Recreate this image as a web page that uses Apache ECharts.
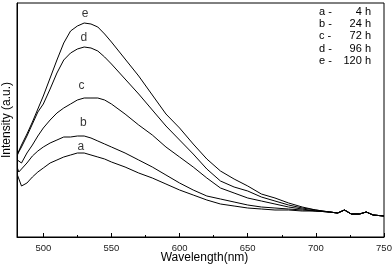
<!DOCTYPE html>
<html><head><meta charset="utf-8">
<script src="https://cdn.jsdelivr.net/npm/echarts@6/dist/echarts.min.js"></script>
<style>html,body{margin:0;padding:0;background:#fff}#c{width:392px;height:269px}</style>
</head><body><div id="c"></div>
<script>
const wavelengths = [481,482,484,488,492,496,500,505,510,515,520,525,530,535,540,545,550,560,570,580,590,600,610,620,630,640,650,660,670,680,690,700,710,716,721,726,732,737,742,750];
const seriesA = [62,61,51,54,60,65,69,74,77,80,82,84,84,82,80,78,75,70,64,59,53,47,42,37,33,31,29,28,27,27,26,26,25,24,27,23,23,25,22,21];
const seriesB = [69,65,68,74,81,86,90,94,97,100,100,101,101,99,96,93,90,84,77,70,62,54,47,41,38,35,32,30,29,28,27,26,25,24,27,23,23,25,22,21];
const seriesC = [77,79,74,84,92,101,109,117,124,129,133,137,139,139,139,137,133,123,112,102,90,80,70,59,49,44,39,36,33,30,28,26,25,24,27,23,23,25,22,21];
const seriesD = [82,85,90,101,113,125,133,148,164,177,184,188,190,189,186,180,173,158,143,127,111,97,83,68,56,50,46,40,36,32,29,27,25,24,27,23,23,25,22,21];
const seriesE = [83,86,92,103,115,128,141,159,177,194,206,211,214,213,210,203,195,178,161,142,123,109,93,78,66,58,51,43,39,34,30,27,25,24,27,23,23,25,22,21];
const curveNames = ['a','b','c','d','e'];
const labelWavelengths = [527.6,529.3,528,529.8,530.7];
const labelIntensities = [90,114,151,199,223];
const legendLetters = ['a -','b -','c -','d -','e -'];
const legendTimes = ['4 h','24 h','72 h','96 h','120 h'];
const xTickValues = [500,550,600,650,700,750];
const xMinorTickValues = [525,575,625,675,725];

const FONT = '"Liberation Sans", Arial, sans-serif';
const allSeries = [seriesA, seriesB, seriesC, seriesD, seriesE];
const chart = echarts.init(document.getElementById('c'), null, {renderer:'canvas'});

const lineSeries = allSeries.map((vals, i) => ({
  name: curveNames[i], type: 'line', xAxisIndex: 0, showSymbol: false, silent: true,
  lineStyle: {color: '#000', width: 1}, animation: false,
  data: wavelengths.map((w, j) => [w, vals[j]])
}));
const labelSeries = {
  type: 'scatter', symbolSize: 0, silent: true, animation: false,
  data: curveNames.map((n, i) => [labelWavelengths[i], labelIntensities[i], n]),
  label: {show: true, position: 'inside', formatter: p => p.data[2], fontSize: 12, color: '#000', fontFamily: FONT}
};

const graphics = [];
legendLetters.forEach((t, i) => {
  graphics.push({type:'text', left: 319, top: 6 + i*12.4, style:{text: t, font: '11px ' + FONT, fill:'#000'}});
  graphics.push({type:'text', right: 21, top: 6 + i*12.4, style:{text: legendTimes[i], font: '11px ' + FONT, fill:'#000'}});
});

chart.setOption({
  animation: false,
  grid: {left: 17, right: 8, top: 3, bottom: 32, show: true, borderColor: '#000', borderWidth: 1, backgroundColor: 'transparent', containLabel: false, outerBoundsMode: 'none'},
  xAxis: [{
    type: 'value', min: 480.7, max: 750, position: 'bottom',
    axisLine: {show: true, onZero: false, lineStyle: {color: '#000', width: 1}},
    axisTick: {show: true, inside: true, length: 4, customValues: xTickValues, lineStyle: {color: '#000'}},
    axisLabel: {customValues: xTickValues, fontSize: 9.5, color: '#222', margin: 6, fontFamily: '"Liberation Sans Narrow", "Liberation Sans", Arial, sans-serif'},
    splitLine: {show: false},
    name: 'Wavelength(nm)', nameLocation: 'middle', nameGap: 15, nameMoveOverlap: false,
    nameTextStyle: {fontSize: 12, color: '#000', fontFamily: FONT, padding: [0, 0, 0, 8]}
  }, {
    type: 'value', min: 480.7, max: 750, position: 'bottom',
    axisLine: {show: false},
    axisTick: {show: true, inside: true, length: 2, customValues: xMinorTickValues, lineStyle: {color: '#000'}},
    axisLabel: {show: false}, splitLine: {show: false}
  }],
  yAxis: {
    type: 'value', min: 0, max: 234,
    axisLine: {show: true, lineStyle: {color: '#000', width: 1}},
    axisTick: {show: false}, axisLabel: {show: false}, splitLine: {show: false},
    name: 'Intensity (a.u.)', nameLocation: 'middle', nameGap: 4, nameMoveOverlap: false,
    nameTextStyle: {fontSize: 12, color: '#000', fontFamily: FONT}
  },
  graphic: graphics,
  series: [...lineSeries, labelSeries]
});
</script></body></html>
